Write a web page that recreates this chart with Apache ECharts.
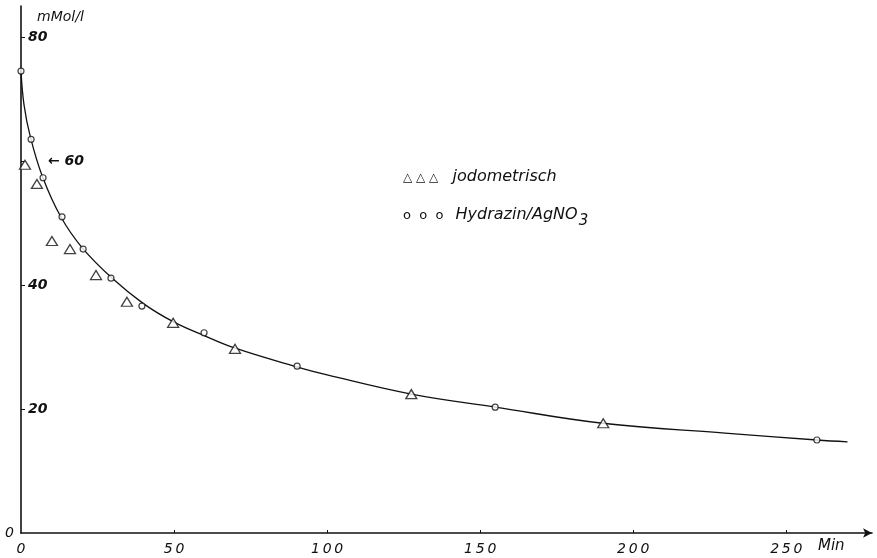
<!DOCTYPE html>
<html>
<head>
<meta charset="utf-8">
<script src="https://cdn.jsdelivr.net/npm/echarts@6/dist/echarts.min.js"></script>
<style>
  html, body { margin: 0; padding: 0; background: #fff; }
  #chart { width: 877px; height: 558px; }
</style>
</head>
<body>
<div id="chart"></div>
<script>
// Werte (Zeit in Min, Konzentration in mMol/l)
const jodoTime = [1.3, 5.2, 10.1, 16, 24.5, 34.6, 49.7, 69.9, 127.5, 190.2]
const jodoConc = [59.4, 56.3, 47.1, 45.8, 41.6, 37.3, 33.9, 29.7, 22.4, 17.7]

const hydraTime = [0, 3.3, 7.2, 13.4, 20.3, 29.4, 39.5, 59.8, 90.2, 154.9, 260]
const hydraConc = [74.5, 63.5, 57.3, 51, 45.8, 41.1, 36.6, 32.3, 26.9, 20.3, 15.0]

// ausgeglichene Kurve
const curveTime = [0, 1, 3, 7, 13, 20, 30, 40, 50, 60, 70, 90, 100, 127.5, 155, 190, 230, 260, 270]
const curveConc = [74.5, 69, 64, 57.5, 51, 46, 41, 37, 34, 31.8, 29.8, 26.8, 25.5, 22.4, 20.3, 17.7, 16.1, 15.0, 14.7]

const xTicks = [0, 50, 100, 150, 200, 250]
const yTicks = [20, 40, 60, 80]

const zip = (a, b) => a.map((v, i) => [v, b[i]])

const font = '"DejaVu Sans", sans-serif'
const ink = '#111'

const chart = echarts.init(document.getElementById('chart'))

const option = {
  backgroundColor: '#fff',
  animation: false,
  grid: { left: 21, right: 5, top: 6, bottom: 25 },
  xAxis: {
    type: 'value',
    min: 0,
    max: 278,
    interval: 50,
    splitLine: { show: false },
    axisLine: {
      lineStyle: { color: ink, width: 1.6 },
      symbol: ['none', 'arrow'],
      symbolSize: [7, 9]
    },
    axisTick: { show: true, inside: true, length: 3, customValues: xTicks.slice(1), lineStyle: { color: ink } },
    axisLabel: {
      customValues: xTicks,
      margin: 9,
      color: ink,
      fontFamily: font,
      fontStyle: 'italic',
      fontSize: 14,
      formatter: v => String(v).split('').join('\u2009')
    }
  },
  yAxis: {
    type: 'value',
    min: 0,
    max: 85,
    interval: 20,
    splitLine: { show: false },
    axisLine: { lineStyle: { color: ink, width: 1.6 } },
    axisTick: { show: true, inside: true, length: 4, customValues: yTicks, lineStyle: { color: ink } },
    axisLabel: {
      inside: true,
      customValues: yTicks,
      margin: 7,
      color: ink,
      fontFamily: font,
      fontStyle: 'italic',
      fontWeight: 'bold',
      fontSize: 14,
      formatter: v => v === 60 ? '{s|\u2190 60}' : String(v),
      rich: {
        s: { padding: [0, 0, 0, 20], fontFamily: font, fontStyle: 'italic', fontWeight: 'bold', fontSize: 14, color: ink }
      }
    }
  },
  series: [
    {
      type: 'line',
      data: zip(curveTime, curveConc),
      smooth: 0.4,
      showSymbol: false,
      lineStyle: { color: ink, width: 1.3 },
      z: 1
    },
    {
      name: 'jodometrisch',
      type: 'scatter',
      data: zip(jodoTime, jodoConc),
      symbol: 'triangle',
      symbolSize: [11, 9],
      itemStyle: { color: '#fff', borderColor: ink, borderWidth: 1.3 },
      z: 3
    },
    {
      name: 'Hydrazin/AgNO3',
      type: 'scatter',
      data: zip(hydraTime, hydraConc),
      symbol: 'circle',
      symbolSize: 6,
      itemStyle: { color: '#fff', borderColor: ink, borderWidth: 1.2 },
      z: 3
    }
  ],
  graphic: [
    { type: 'text', left: 37, top: 10, style: { text: 'mMol/l', font: 'italic 14px ' + font, fill: ink } },
    { type: 'text', left: 5, top: 526, style: { text: '0', font: 'italic 14px ' + font, fill: ink } },
    { type: 'text', left: 818, top: 539, style: { text: 'Min', font: 'italic 15px ' + font, fill: ink } },
    {
      type: 'text', left: 403, top: 169,
      style: {
        text: '{m|\u25b3 \u25b3 \u25b3}  jodometrisch',
        font: 'italic 16px ' + font,
        fill: ink,
        rich: { m: { fontFamily: font, fontSize: 12, padding: [2, 4, 0, 0], fill: ink } }
      }
    },
    {
      type: 'text', left: 403, top: 207,
      style: {
        text: '{m|o  o  o}  Hydrazin/AgNO{sub|3}',
        font: 'italic 16px ' + font,
        fill: ink,
        rich: {
          m: { fontFamily: font, fontSize: 13, padding: [2, 2, 0, 0], fill: ink },
          sub: { fontFamily: font, fontStyle: 'italic', fontSize: 15, padding: [12, 0, 0, 1], fill: ink }
        }
      }
    }
  ]
}

chart.setOption(option)
</script>
</body>
</html>
